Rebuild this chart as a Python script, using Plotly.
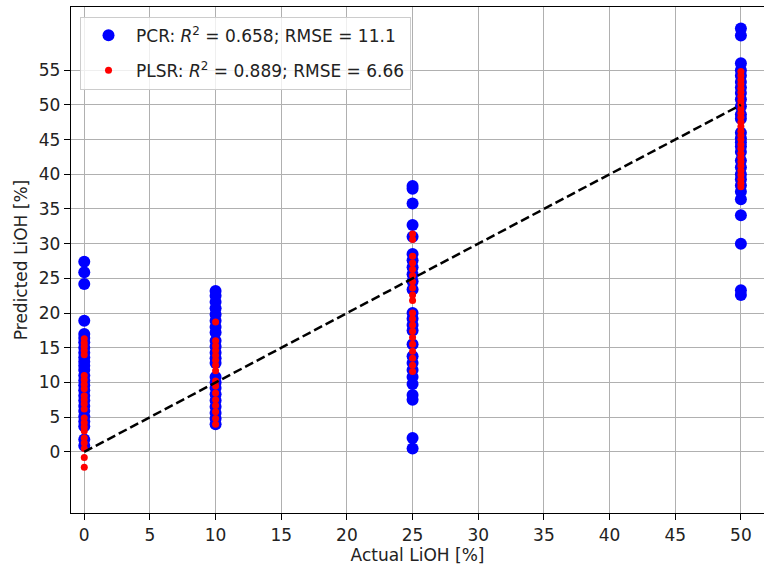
import plotly.graph_objects as go

# Actual LiOH levels (%)
levels = [0, 10, 25, 50]

# PCR predictions per actual level
pcr_0 = [27.4, 25.9, 24.2, 18.9, 17.0, 16.4, 15.8, 15.0, 14.3, 13.6, 13.0, 12.4, 11.8, 11.0,
         10.3, 9.6, 8.9, 8.1, 7.4, 6.6, 5.9, 5.1, 4.4, 3.7, 1.8, 0.9]
pcr_10 = [23.2, 22.5, 21.6, 20.7, 19.8, 18.9, 18.0, 17.2, 16.0, 15.2, 14.3, 13.5, 12.8, 10.8,
          10.0, 9.2, 8.3, 7.4, 6.5, 5.6, 4.8, 4.0]
pcr_25 = [38.3, 37.9, 35.8, 32.7, 31.0, 28.5, 27.6, 26.6, 25.6, 24.6, 23.4, 20.0, 19.2, 18.3,
          17.5, 15.5, 13.8, 12.8, 11.8, 10.8, 9.8, 8.2, 7.5, 2.0, 0.5]
pcr_50 = [61.0, 60.0, 56.0, 55.0, 54.2, 53.3, 52.5, 51.7, 50.8, 49.8, 48.6, 48.0, 46.0, 45.2,
          44.6, 44.0, 43.2, 42.0, 41.0, 40.0, 39.3, 38.4, 37.5, 36.4, 34.1, 30.0, 23.3, 22.6]

# PLSR predictions per actual level
plsr_0 = [16.3, 15.7, 15.2, 14.6, 14.0, 11.0, 10.4, 9.7, 9.1, 8.1, 7.5, 6.9, 6.2, 4.9, 4.2,
          3.6, 3.0, 2.0, 1.3, 0.5, -0.8, -2.2]
plsr_10 = [18.7, 16.0, 15.3, 14.6, 13.9, 13.2, 12.5, 11.7, 10.2, 9.5, 8.5, 7.5, 6.7, 5.8, 4.8, 4.0]
plsr_25 = [31.4, 30.6, 28.2, 27.2, 26.3, 25.4, 24.5, 23.6, 22.6, 21.8, 20.0, 19.2, 18.3, 17.4,
           16.5, 15.5, 14.5, 13.5, 12.5, 11.6]
plsr_50 = [54.8, 54.2, 53.6, 53.0, 52.4, 51.8, 51.2, 50.6, 50.0, 49.4, 48.8, 48.2, 47.5, 46.9,
           46.2, 45.6, 45.0, 44.3, 43.7, 43.0, 42.4, 41.8, 41.2, 40.5, 39.9, 39.3, 38.7, 38.2]

pcr_label = "PCR: <i>R</i><sup>2</sup> = 0.658; RMSE = 11.1"
plsr_label = "PLSR: <i>R</i><sup>2</sup> = 0.889; RMSE = 6.66"

ideal_x = [0, 50]
ideal_y = [0, 50]

x_ticks = list(range(0, 51, 5))
y_ticks = list(range(0, 56, 5))

pcr_groups = [pcr_0, pcr_10, pcr_25, pcr_50]
plsr_groups = [plsr_0, plsr_10, plsr_25, plsr_50]

pcr_x, pcr_y, plsr_x, plsr_y = [], [], [], []
for lv, vals in zip(levels, pcr_groups):
    pcr_x += [lv] * len(vals)
    pcr_y += vals
for lv, vals in zip(levels, plsr_groups):
    plsr_x += [lv] * len(vals)
    plsr_y += vals

font = "DejaVu Sans, sans-serif"
FS = 17

fig = go.Figure()
fig.add_trace(go.Scatter(x=pcr_x, y=pcr_y, mode="markers", name=pcr_label,
                         legendgroup="a",
                         marker=dict(color="#0000ff", size=12, line=dict(width=0))))
fig.add_trace(go.Scatter(x=plsr_x, y=plsr_y, mode="markers", name=plsr_label,
                         legendgroup="b",
                         marker=dict(color="#ff0000", size=7, line=dict(width=0))))
fig.add_trace(go.Scatter(x=ideal_x, y=ideal_y, mode="lines", showlegend=False,
                         line=dict(color="black", width=2.5, dash="9px,4px")))

axis_common = dict(
    showgrid=True, gridcolor="#b0b0b0", gridwidth=1.3,
    zeroline=False, showline=True, linecolor="black", linewidth=1.3,
    ticks="outside", ticklen=6, tickwidth=1.3, tickcolor="black",
    tickfont=dict(family=font, size=FS, color="#222222"),
    title_font=dict(family=font, size=FS, color="#222222"),
    automargin=False,
)

fig.update_layout(
    width=764, height=569,
    margin=dict(l=71, r=0, t=7, b=56),
    paper_bgcolor="white", plot_bgcolor="white",
    font=dict(family=font, size=FS, color="#222222"),
    xaxis=dict(range=[-1.01, 51.76], tickvals=x_ticks, mirror=True,
               title=dict(text="Actual LiOH [%]", standoff=4), **axis_common),
    yaxis=dict(range=[-8.8, 64.1], tickvals=y_ticks,
               title=dict(text="Predicted LiOH [%]", standoff=6), **axis_common),
    legend=dict(x=0.013, y=0.981, xanchor="left", yanchor="top",
                bgcolor="rgba(255,255,255,0.8)", bordercolor="#cccccc", borderwidth=1,
                font=dict(family=font, size=FS, color="#222222"),
                traceorder="grouped", tracegroupgap=10, itemwidth=45),
    showlegend=True,
)

fig.write_html("out.html", config={"displayModeBar": False},
               post_script="document.body.style.margin='0';document.body.style.padding='0';")
